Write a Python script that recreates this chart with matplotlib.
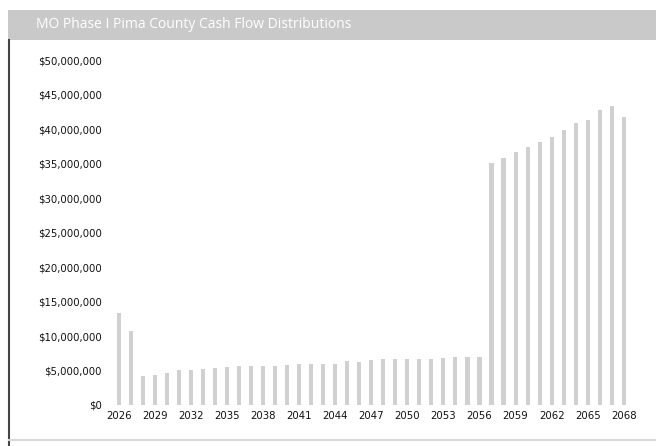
import matplotlib.pyplot as plt
from matplotlib.ticker import FuncFormatter
from matplotlib.patches import Rectangle

years = list(range(2026, 2069))
# distributions in $ millions
values = [13.3, 10.7, 4.2, 4.3, 4.7, 5.0, 5.0, 5.2, 5.3, 5.5,
          5.6, 5.7, 5.7, 5.6, 5.8, 5.9, 6.0, 6.0, 6.0, 6.4,
          6.3, 6.5, 6.6, 6.6, 6.6, 6.7, 6.6, 6.8, 6.9, 7.0,
          7.0, 35.1, 35.8, 36.7, 37.4, 38.1, 38.8, 39.9, 40.9, 41.4,
          42.8, 43.3, 41.7]
tick_years = list(range(2026, 2069, 3))
title = "MO Phase I Pima County Cash Flow Distributions"

fig = plt.figure(figsize=(6.56, 4.46), dpi=100)
fig.patch.set_facecolor("white")

# title bar and frame lines
fig.patches.append(Rectangle((0.012, 0.91), 0.988, 0.068, transform=fig.transFigure,
                             facecolor="#c9c9c9", edgecolor="none"))
fig.text(0.055, 0.946, title, color="white", fontsize=10, va="center", ha="left",
         family="Open Sans")
fig.lines.append(plt.Line2D([0.013, 0.013], [0.0, 0.91], transform=fig.transFigure,
                            color="#444444", lw=1.5))
fig.lines.append(plt.Line2D([0.013, 1.0], [0.013, 0.013], transform=fig.transFigure,
                            color="#d8d8d8", lw=1.5))

ax = fig.add_axes([0.172, 0.092, 0.788, 0.773])
ax.bar(years, [v * 1e6 for v in values], width=0.34, color="#d0d0d0")
ax.set_xlim(2025.5, 2068.5)
ax.set_ylim(0, 50e6)
ax.set_yticks([i * 5e6 for i in range(11)])
ax.yaxis.set_major_formatter(FuncFormatter(lambda v, p: "${:,.0f}".format(v)))
ax.set_xticks(tick_years)
for s in ax.spines.values():
    s.set_visible(False)
ax.tick_params(length=0, labelsize=7.3, colors="#111111")
ax.tick_params(axis="y", pad=8)
ax.tick_params(axis="x", pad=4)

fig.savefig("out.png", dpi=100)
